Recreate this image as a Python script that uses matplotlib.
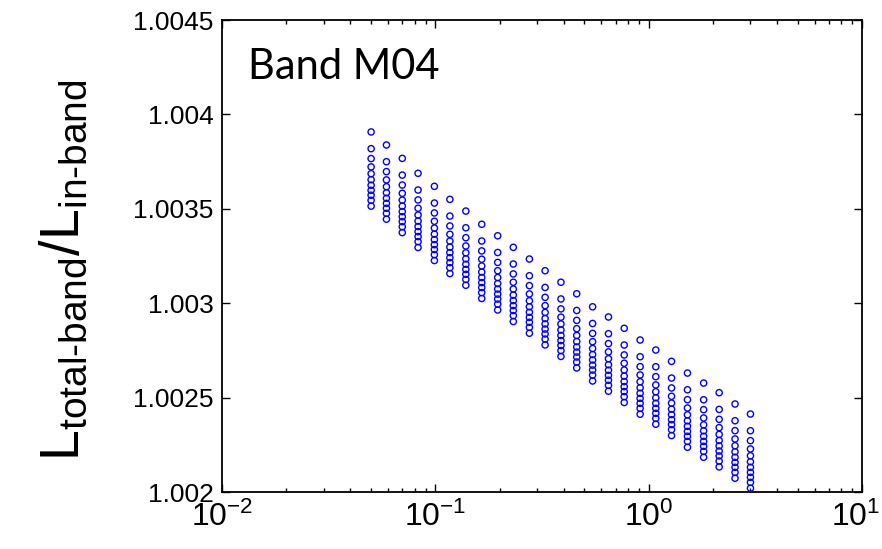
import numpy as np
import matplotlib
matplotlib.use("Agg")
import matplotlib.pyplot as plt
import matplotlib.transforms as mtransforms
from matplotlib.ticker import LogLocator, MultipleLocator, FormatStrFormatter

# column positions
x_cols = [0.050, 0.059, 0.070, 0.083, 0.099, 0.117, 0.139, 0.165, 0.196, 0.232,
          0.276, 0.327, 0.388, 0.460, 0.546, 0.648, 0.768, 0.912, 1.08, 1.28,
          1.52, 1.81, 2.14, 2.54, 3.0]

# highest point of every column
y_top = [1.003907, 1.003838, 1.003767, 1.003688, 1.003619, 1.003550, 1.003488,
         1.003418, 1.003357, 1.003296, 1.003234, 1.003172, 1.003111, 1.003050,
         1.002981, 1.002927, 1.002867, 1.002805, 1.002752, 1.002692, 1.002630,
         1.002577, 1.002526, 1.002466, 1.002413]

# drop of each of the 11 points below the column top (same for all columns)
y_drop = [0, 0.0000885, 0.000141, 0.000185, 0.000221, 0.000253, 0.000282,
          0.000309, 0.000335, 0.000362, 0.000393]

x_ticks = [1e-2, 1e-1, 1e0, 1e1]
x_ticklabels = [r'$\mathregular{10^{-2}}$', r'$\mathregular{10^{-1}}$',
                r'$\mathregular{10^{0}}$', r'$\mathregular{10^{1}}$']

xs, ys = [], []
for xc, yt in zip(x_cols, y_top):
    for d in y_drop:
        xs.append(xc)
        ys.append(yt - d)

plt.rcParams['font.family'] = ['Liberation Sans', 'DejaVu Sans']
plt.rcParams['mathtext.fontset'] = 'custom'
plt.rcParams['mathtext.rm'] = 'Liberation Sans'
plt.rcParams['mathtext.it'] = 'Liberation Sans'

fig = plt.figure(figsize=(8.82, 5.49), dpi=100)
ax = fig.add_axes([222 / 882, 1 - 492 / 549, 640 / 882, 472 / 549])

ax.scatter(xs, ys, s=20, facecolors='none', edgecolors='#0000ff', linewidths=1.0, zorder=3)

ax.set_xscale('log')
ax.set_xlim(1e-2, 1e1)
ax.set_ylim(1.002, 1.0045)
ax.yaxis.set_major_locator(MultipleLocator(0.0005))
ax.yaxis.set_major_formatter(FormatStrFormatter('%g'))
ax.xaxis.set_minor_locator(LogLocator(base=10, subs=np.arange(2, 10), numticks=10))

ax.tick_params(which='both', direction='in', top=True, right=True)
ax.tick_params(which='major', length=6, width=1)
ax.tick_params(which='minor', length=3, width=1)
ax.tick_params(axis='y', labelsize=19, pad=6)
ax.tick_params(axis='x', labelsize=23, pad=7)
ax.set_xticks(x_ticks)
ax.set_xticklabels(x_ticklabels)
for sp in ax.spines.values():
    sp.set_linewidth(1.3)

# keep the last decade label inside the picture
last = ax.get_xticklabels()[-1]
last.set_transform(last.get_transform() +
                   mtransforms.ScaledTranslation(-6 / 100, 0, fig.dpi_scale_trans))

ax.set_ylabel(r'$\mathregular{L_{\text{total-band}}/L_{\text{in-band}}}$', fontsize=40)
ax.yaxis.set_label_coords(-0.205, 0.47)

ax.text(0.04, 0.94, 'Band M04', transform=ax.transAxes, fontsize=30,
        family='Lato', va='top', ha='left')

fig.savefig('out.png', dpi=100)
